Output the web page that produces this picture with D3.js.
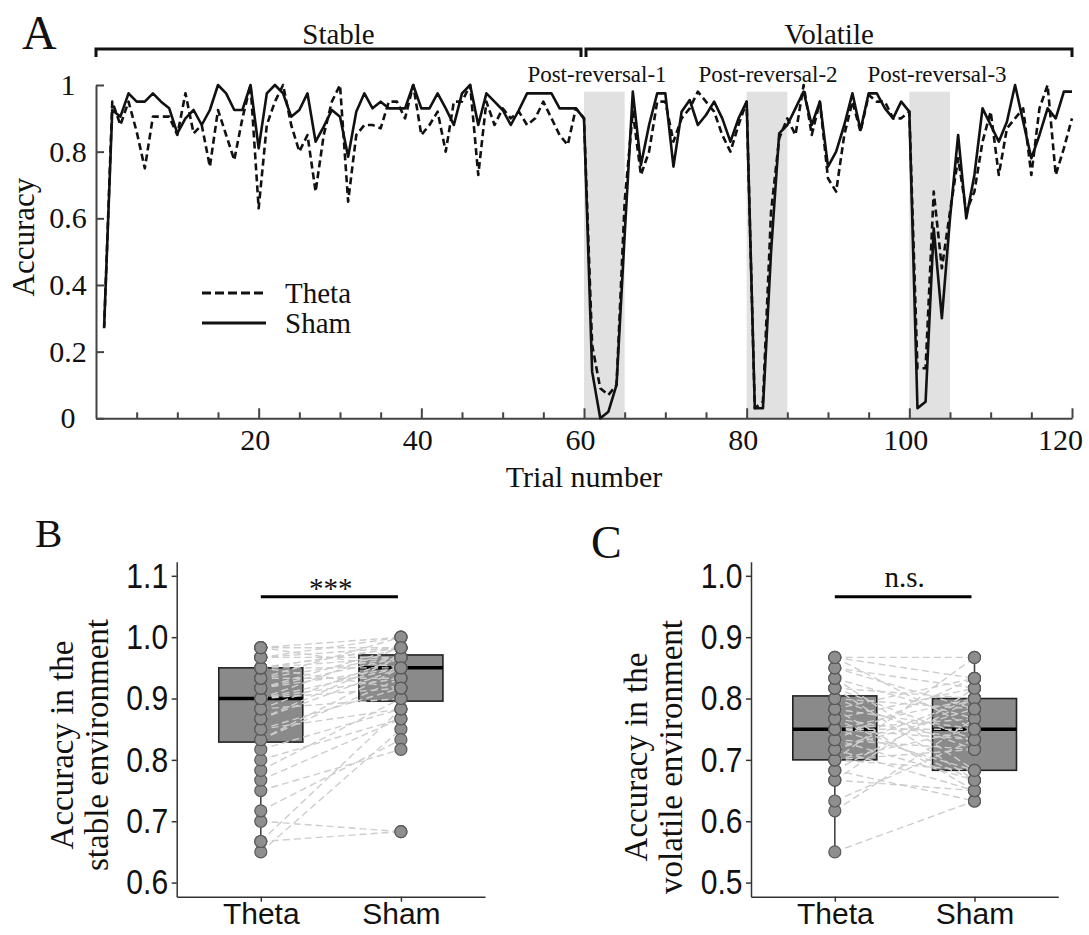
<!DOCTYPE html>
<html lang="en">
<head>
<meta charset="UTF-8" />
<title>Accuracy: Theta vs Sham</title>
<script src="https://d3js.org/d3.v7.min.js"></script>
<style>
  body { margin: 0; background: #fff; }
  .serif { font-family: "Liberation Serif", "Times New Roman", serif; fill: #111; }
  .sans { font-family: "Liberation Sans", Arial, sans-serif; fill: #111; }
</style>
</head>
<body>
<div id="chart"></div>
<script>
// ---- data: panel A, mean accuracy per trial (trials 1..120)
const shamAcc = [
  0.275, 0.925, 0.905, 0.975, 0.95, 0.95, 0.975, 0.95, 0.93, 0.855,
  0.90, 0.925, 0.88, 0.925, 1.0, 0.975, 0.925, 0.925, 1.0, 0.81,
  0.975, 1.0, 0.975, 0.905, 0.925, 0.975, 0.83, 0.875, 0.925, 0.905,
  0.785, 0.92, 0.975, 0.93, 0.95, 0.93, 0.93, 0.93, 1.0, 0.93,
  0.93, 0.975, 0.93, 0.88, 0.975, 1.0, 0.88, 0.975, 0.95, 0.925,
  0.88, 0.925, 0.975, 0.975, 0.975, 0.975, 0.93, 0.93, 0.93, 0.90,
  0.14, 0.0, 0.02, 0.10, 0.55, 0.98, 0.76, 0.88, 0.975, 0.975,
  0.755, 0.92, 0.955, 0.88, 0.91, 0.95, 0.90, 0.83, 0.90, 0.95,
  0.03, 0.03, 0.50, 0.855, 0.88, 0.93, 0.98, 0.88, 0.95, 0.755,
  0.80, 0.88, 0.975, 0.865, 0.975, 0.975, 0.93, 0.90, 0.95, 0.92,
  0.03, 0.05, 0.57, 0.30, 0.60, 0.85, 0.60, 0.73, 0.93, 0.88,
  0.83, 0.89, 1.0, 0.89, 0.78, 0.85, 0.93, 0.90, 0.98, 0.98
];
const thetaAcc = [
  0.27, 0.95, 0.88, 0.95, 0.86, 0.75, 0.905, 0.905, 0.905, 0.85,
  0.975, 0.855, 0.88, 0.755, 0.925, 0.85, 0.775, 0.90, 1.0, 0.63,
  0.88, 0.95, 1.0, 0.88, 0.80, 0.85, 0.68, 0.85, 0.95, 1.0,
  0.65, 0.85, 0.88, 0.88, 0.87, 0.95, 0.95, 0.90, 1.0, 0.85,
  0.88, 0.92, 0.80, 0.95, 0.95, 1.0, 0.73, 0.95, 0.88, 0.93,
  0.90, 0.92, 0.88, 0.90, 0.95, 0.90, 0.85, 0.82, 0.93, 0.90,
  0.22, 0.09, 0.07, 0.10, 0.65, 0.92, 0.73, 0.80, 0.95, 0.95,
  0.83, 0.90, 0.93, 0.98, 0.95, 0.92, 0.85, 0.80, 0.88, 0.95,
  0.03, 0.05, 0.62, 0.84, 0.90, 0.85, 1.0, 0.85, 0.95, 0.72,
  0.68, 0.85, 0.95, 0.86, 0.97, 0.95, 0.95, 0.90, 0.90, 0.92,
  0.15, 0.15, 0.68, 0.45, 0.62, 0.78, 0.62, 0.68, 0.83, 0.92,
  0.73, 0.87, 0.90, 0.93, 0.73, 0.93, 1.0, 0.73, 0.81, 0.90
];
const reversalWindows = [[60, 65], [80, 85], [100, 105]];
const reversalLabels = ["Post-reversal-1", "Post-reversal-2", "Post-reversal-3"];
const phases = [{ name: "Stable", from: 0, to: 60 }, { name: "Volatile", from: 60, to: 120 }];

// ---- data: panels B and C, one value per participant (same order in each pair)
const groups = ["Theta", "Sham"];
const thetaStable = [0.65, 0.667, 0.667, 0.70, 0.717, 0.75, 0.767, 0.783, 0.80, 0.817,
  0.833, 0.833, 0.85, 0.85, 0.867, 0.867, 0.883, 0.883, 0.90, 0.90,
  0.90, 0.90, 0.917, 0.917, 0.917, 0.933, 0.933, 0.933, 0.95, 0.95,
  0.95, 0.95, 0.95, 0.967, 0.967, 0.967, 0.983, 0.983, 0.983, 0.983];
const shamStable = [0.85, 0.683, 0.883, 0.683, 0.833, 0.817, 0.867, 0.90, 0.867, 0.883,
  0.933, 0.95, 0.883, 0.917, 0.95, 0.967, 0.90, 0.967, 0.917, 0.95,
  0.983, 0.933, 0.967, 0.95, 0.983, 0.933, 0.967, 1.0, 0.95, 0.983,
  0.917, 0.967, 0.983, 0.983, 1.0, 0.967, 0.983, 0.95, 1.0, 0.983];
const thetaVolatile = [0.55, 0.617, 0.633, 0.667, 0.667, 0.683, 0.683, 0.70, 0.70, 0.70,
  0.70, 0.717, 0.717, 0.717, 0.733, 0.733, 0.733, 0.75, 0.75, 0.75,
  0.75, 0.75, 0.767, 0.767, 0.767, 0.783, 0.783, 0.783, 0.80, 0.80,
  0.817, 0.817, 0.817, 0.833, 0.833, 0.85, 0.85, 0.867, 0.867, 0.867];
const shamVolatile = [0.633, 0.767, 0.733, 0.817, 0.65, 0.80, 0.633, 0.75, 0.683, 0.867,
  0.717, 0.783, 0.65, 0.80, 0.717, 0.833, 0.667, 0.75, 0.80, 0.683,
  0.767, 0.733, 0.817, 0.667, 0.733, 0.75, 0.65, 0.833, 0.717, 0.783,
  0.667, 0.80, 0.733, 0.767, 0.683, 0.783, 0.817, 0.75, 0.833, 0.867];
const stableTicks = [0.6, 0.7, 0.8, 0.9, 1.0, 1.1];
const volatileTicks = [0.5, 0.6, 0.7, 0.8, 0.9, 1.0];

const width = 1089, height = 935;
const svg = d3.select("#chart").append("svg")
  .attr("width", width).attr("height", height);

// =================== Panel A ===================
const x = d3.scaleLinear().domain([0, 120]).range([96, 1072]);
const y = d3.scaleLinear().domain([0, 1]).range([418.3, 85]);
const gA = svg.append("g");

gA.append("text").attr("class", "serif").attr("x", 22).attr("y", 49)
  .style("font-size", "48px").text("A");

// shaded post-reversal windows
gA.selectAll("rect.win").data(reversalWindows).join("rect")
  .attr("x", d => x(d[0])).attr("width", d => x(d[1]) - x(d[0]))
  .attr("y", y(0.98)).attr("height", y(0) - y(0.98))
  .attr("fill", "#e1e1e1");

gA.selectAll("text.rev").data(reversalLabels).join("text")
  .attr("class", "serif").attr("text-anchor", "middle")
  .attr("x", (d, i) => [597, 768, 937][i]).attr("y", 82)
  .style("font-size", "23px").text(d => d);

// phase brackets
phases.forEach((p, i) => {
  const x0 = x(p.from) + (i ? 2 : 0), x1 = x(p.to) - (i ? 0 : 3);
  gA.append("path")
    .attr("d", `M${x0},57V49H${x1}V57`)
    .attr("fill", "none").attr("stroke", "#111").attr("stroke-width", 3);
  gA.append("text").attr("class", "serif").attr("text-anchor", "middle")
    .attr("x", (x0 + x1) / 2).attr("y", 44).style("font-size", "29px").text(p.name);
});

// axes
const xMajor = gA.append("g").attr("transform", `translate(0,${y(0)})`)
  .call(d3.axisBottom(x).tickValues(d3.range(20, 121, 20)).tickSize(-10).tickSizeOuter(0));
xMajor.selectAll("text").attr("class", "serif").attr("y", 31.5).attr("dy", null)
  .attr("x", d => d === 120 ? -12 : -4)
  .style("font-size", "30px").attr("fill", "#111");
gA.append("g").attr("transform", `translate(0,${y(0)})`)
  .call(d3.axisBottom(x).tickValues(d3.range(5, 120, 5).filter(v => v % 20)).tickSize(-6).tickFormat(""))
  .select(".domain").remove();
const yAx = gA.append("g").attr("transform", `translate(${x(0)},0)`)
  .call(d3.axisLeft(y).tickValues([0, 0.2, 0.4, 0.6, 0.8, 1]).tickSize(-8).tickSizeOuter(0)
    .tickFormat(d => (d === 0 || d === 1) ? String(d) : d3.format(".1f")(d)));
yAx.selectAll("text").attr("class", "serif").attr("text-anchor", "middle").attr("x", -28)
  .style("font-size", "30px").attr("fill", "#111");
gA.selectAll(".domain, .tick line").attr("stroke", "#444").attr("stroke-width", 2);

gA.append("text").attr("class", "serif").attr("text-anchor", "middle")
  .attr("transform", "translate(34,237) rotate(-90)").style("font-size", "31px").text("Accuracy");
gA.append("text").attr("class", "serif").attr("text-anchor", "middle")
  .attr("x", (x(0) + x(120)) / 2).attr("y", 487).style("font-size", "30px").text("Trial number");

// lines
const line = d3.line().x((d, i) => x(i + 1)).y(d => y(d));
gA.append("path").datum(thetaAcc).attr("d", line)
  .attr("fill", "none").attr("stroke", "#111").attr("stroke-width", 2.6)
  .attr("stroke-dasharray", "7,4").attr("stroke-linejoin", "round");
gA.append("path").datum(shamAcc).attr("d", line)
  .attr("fill", "none").attr("stroke", "#111").attr("stroke-width", 2.6)
  .attr("stroke-linejoin", "round");

// legend
const legend = [{ name: "Theta", dash: "9,4", y: 293 }, { name: "Sham", dash: null, y: 323 }];
legend.forEach(l => {
  gA.append("line").attr("x1", 202).attr("x2", 266).attr("y1", l.y).attr("y2", l.y)
    .attr("stroke", "#111").attr("stroke-width", 3).attr("stroke-dasharray", l.dash);
  gA.append("text").attr("class", "serif").attr("x", 285).attr("y", l.y + 10)
    .style("font-size", "29px").text(l.name);
});

// =================== Panels B and C ===================
function boxPanel(o) {
  const g = svg.append("g");
  const xs = d3.scalePoint().domain(groups).range([o.left, o.right]).padding(0.6);
  const ys = d3.scaleLinear().domain(o.domain).range([896.7, 561.7]);

  g.append("text").attr("class", "serif").attr("x", o.letterX).attr("y", o.letterY)
    .style("font-size", o.letterSize + "px").text(o.letter);

  const ya = g.append("g").attr("transform", `translate(${o.left},0)`)
    .call(d3.axisLeft(ys).tickValues(o.ticks).tickSize(5).tickSizeOuter(0).tickFormat(d3.format(".1f")));
  ya.selectAll("text").attr("class", "sans").attr("x", 0)
    .attr("transform", "translate(-8.5,0) scale(0.86,1)").style("font-size", "35px").attr("fill", "#111");
  const xa = g.append("g").attr("transform", "translate(0,896.7)")
    .call(d3.axisBottom(xs).tickSize(5).tickSizeOuter(0));
  xa.selectAll("text").attr("class", "sans").attr("y", 27).attr("dy", null)
    .style("font-size", "30px").attr("fill", "#111");
  g.selectAll(".domain, .tick line").attr("stroke", "#333").attr("stroke-width", 1.5);

  o.ylab.forEach((t, i) => {
    g.append("text").attr("class", "serif").attr("text-anchor", "middle")
      .attr("transform", `translate(${o.left - (i ? 69 : 104)},${o.labY}) rotate(-90)`)
      .style("font-size", "33px").text(t);
  });

  const series = [o.theta, o.sham];
  const bw = 84;
  series.forEach((vals, k) => {
    const s = vals.slice().sort(d3.ascending);
    const q1 = d3.quantile(s, 0.25), med = d3.quantile(s, 0.5), q3 = d3.quantile(s, 0.75);
    const iqr = q3 - q1;
    const lo = d3.min(s.filter(v => v >= q1 - 1.5 * iqr));
    const hi = d3.max(s.filter(v => v <= q3 + 1.5 * iqr));
    const cx = xs(groups[k]);
    g.append("line").attr("x1", cx).attr("x2", cx).attr("y1", ys(hi)).attr("y2", ys(q3))
      .attr("stroke", "#444").attr("stroke-width", 1.6);
    g.append("line").attr("x1", cx).attr("x2", cx).attr("y1", ys(q1)).attr("y2", ys(lo))
      .attr("stroke", "#444").attr("stroke-width", 1.6);
    g.append("rect").attr("x", cx - bw / 2).attr("width", bw)
      .attr("y", ys(q3)).attr("height", ys(q1) - ys(q3))
      .attr("fill", "#8a8a8a").attr("stroke", "#222").attr("stroke-width", 1.6);
    g.append("line").attr("x1", cx - bw / 2).attr("x2", cx + bw / 2)
      .attr("y1", ys(med)).attr("y2", ys(med)).attr("stroke", "#000").attr("stroke-width", 3.5);
  });

  // paired subject lines
  g.selectAll("line.pair").data(o.theta).join("line")
    .attr("x1", xs("Theta")).attr("y1", d => ys(d))
    .attr("x2", xs("Sham")).attr("y2", (d, i) => ys(o.sham[i]))
    .attr("stroke", "#cdcdcd").attr("stroke-width", 1.4).attr("stroke-dasharray", "7,4");

  series.forEach((vals, k) => {
    g.selectAll(null).data(vals).join("circle")
      .attr("cx", xs(groups[k])).attr("cy", d => ys(d)).attr("r", 6)
      .attr("fill", "#8e8e8e").attr("stroke", "#5a5a5a").attr("stroke-width", 1.2);
  });

  // significance bar
  g.append("line").attr("x1", xs("Theta")).attr("x2", xs("Sham") - 3)
    .attr("y1", 596.7).attr("y2", 596.7).attr("stroke", "#000").attr("stroke-width", 3);
  g.append("text").attr("class", "serif").attr("text-anchor", "middle")
    .attr("x", (xs("Theta") + xs("Sham")) / 2).attr("y", o.sigY)
    .style("font-size", "29px").text(o.sig);
}

boxPanel({
  left: 176.7, right: 485, domain: [0.577, 1.123], ticks: stableTicks,
  theta: thetaStable, sham: shamStable, letter: "B", letterX: 35, letterY: 547, letterSize: 41,
  ylab: ["Accuracy in the", "stable environment"], labY: 745, sig: "***", sigY: 598
});
boxPanel({
  left: 751, right: 1058.3, domain: [0.477, 1.023], ticks: volatileTicks,
  theta: thetaVolatile, sham: shamVolatile, letter: "C", letterX: 591, letterY: 558, letterSize: 46,
  ylab: ["Accuracy in the", "volatile environment"], labY: 757, sig: "n.s.", sigY: 587
});
</script>
</body>
</html>
